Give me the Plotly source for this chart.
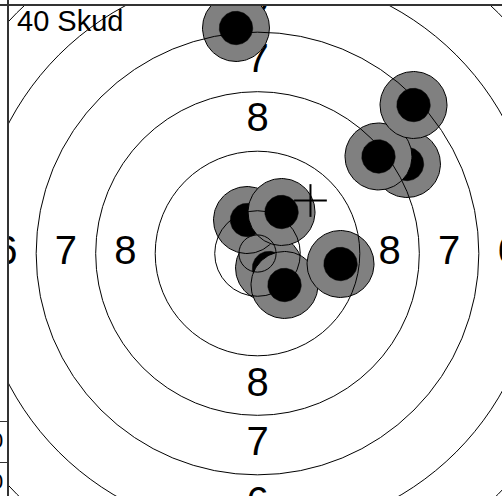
import numpy as np
import plotly.graph_objects as go

# ---- data (mm on an ISSF 10 m air-pistol target) ----
ring_radii = [2.5, 5.75, 13.75, 21.75, 29.75, 37.75, 45.75]
label_values = ["8", "7", "6", "5"]
label_radii = [17.75, 25.75, 33.75, 41.75]
shot_x = [1.55, 3.63, -1.41, 3.23, 11.16, 20.09, 16.26, 20.97, -2.89]
shot_y = [-1.95, -4.23, 4.50, 5.58, -1.41, 12.03, 13.04, 19.96, 30.31]
shot_outer_r = 4.5
shot_inner_r = 2.25
mean_x = 7.12
mean_y = 7.12
title_text = "40 Skud"
side_labels = ["0", "0"]

# ---- layout geometry ----
W_PAGE, H_PAGE = 502, 496
L, T = 8, 5
PX_PER_MM = 7.44
CX, CY = 257.5, 253.5
W = W_PAGE - L
H = H_PAGE - T
xr = [(L - CX) / PX_PER_MM, (W_PAGE - CX) / PX_PER_MM]
yr = [(CY - H_PAGE) / PX_PER_MM, (CY - T) / PX_PER_MM]


def XP(px):
    return (px - L) / W


def YP(py):
    return 1 - (py - T) / H


fig = go.Figure()

# zone labels (under shots)
lx, ly, lt = [], [], []
for v, r in zip(label_values, label_radii):
    for dx, dy in [(0, 1), (0, -1), (-1, 0), (1, 0)]:
        lx.append(dx * r)
        ly.append(dy * r)
        lt.append(v)
fig.add_trace(go.Scatter(
    x=lx, y=ly, text=lt, mode="text", textposition="middle center",
    textfont=dict(family="Liberation Sans, Arial", size=40, color="black"),
    hoverinfo="skip", showlegend=False, cliponaxis=True))

# shots
theta = np.linspace(0, 2 * np.pi, 121)
for sx, sy in zip(shot_x, shot_y):
    fig.add_trace(go.Scatter(
        x=sx + shot_outer_r * np.cos(theta), y=sy + shot_outer_r * np.sin(theta),
        mode="lines", fill="toself", fillcolor="#808080",
        line=dict(color="black", width=1), hoverinfo="skip", showlegend=False))
    fig.add_trace(go.Scatter(
        x=sx + shot_inner_r * np.cos(theta), y=sy + shot_inner_r * np.sin(theta),
        mode="lines", fill="toself", fillcolor="black",
        line=dict(color="black", width=0.5), hoverinfo="skip", showlegend=False))

shapes = []
for r in ring_radii:
    shapes.append(dict(type="circle", xref="x", yref="y", x0=-r, x1=r, y0=-r, y1=r,
                       line=dict(color="black", width=1), layer="above"))
arm = 2.2
shapes.append(dict(type="line", xref="x", yref="y", x0=mean_x - arm, x1=mean_x + arm,
                   y0=mean_y, y1=mean_y, line=dict(color="black", width=2), layer="above"))
shapes.append(dict(type="line", xref="x", yref="y", x0=mean_x, x1=mean_x,
                   y0=mean_y - arm, y1=mean_y + arm, line=dict(color="black", width=2), layer="above"))
# frame lines
shapes.append(dict(type="line", xref="paper", yref="paper", x0=XP(8), x1=XP(8),
                   y0=YP(0), y1=YP(496), line=dict(color="#333333", width=2)))
shapes.append(dict(type="line", xref="paper", yref="paper", x0=XP(0), x1=XP(502),
                   y0=YP(5), y1=YP(5), line=dict(color="#333333", width=2)))
for py in [421.5, 462.5]:
    shapes.append(dict(type="line", xref="paper", yref="paper", x0=XP(0), x1=XP(8),
                       y0=YP(py), y1=YP(py), line=dict(color="#333333", width=1)))

annotations = [dict(xref="paper", yref="paper", x=XP(15), y=YP(3), xanchor="left",
                    yanchor="top", text=title_text, showarrow=False,
                    font=dict(family="Liberation Sans, Arial", size=29, color="black"))]
for txt, py in zip(side_labels, [440, 481.5]):
    annotations.append(dict(xref="paper", yref="paper", x=XP(4.5), y=YP(py), xanchor="right",
                            yanchor="middle", text=txt, showarrow=False,
                            font=dict(family="Liberation Sans, Arial", size=22, color="black")))

fig.update_layout(
    width=W_PAGE, height=H_PAGE, autosize=False,
    margin=dict(l=L, r=0, t=T, b=0, pad=0),
    paper_bgcolor="white", plot_bgcolor="white",
    xaxis=dict(range=xr, visible=False, showgrid=False, zeroline=False, fixedrange=True),
    yaxis=dict(range=yr, visible=False, showgrid=False, zeroline=False, fixedrange=True),
    shapes=shapes, annotations=annotations, showlegend=False)

fig.write_html(
    "out.html",
    config={"displayModeBar": False},
    post_script="document.body.style.margin='0';document.body.style.overflow='hidden';",
)
